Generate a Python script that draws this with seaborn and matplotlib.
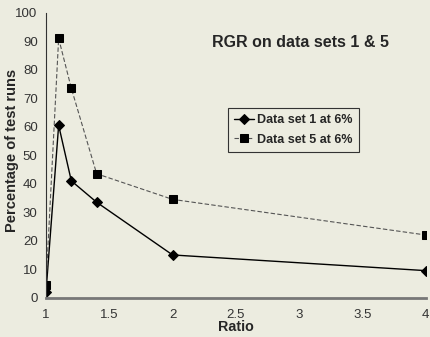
import matplotlib
matplotlib.use("Agg")
import matplotlib.pyplot as plt
import seaborn as sns
import pandas as pd

# Ratio values on the x axis
ratios = [1.0, 1.1, 1.2, 1.4, 2.0, 4.0]
# Percentage of test runs for each data set
set1_pct = [2, 60.5, 41, 33.5, 15, 9.5]
set5_pct = [4.5, 91, 73.5, 43.5, 34.5, 22]
series_names = ["Data set 1 at 6%", "Data set 5 at 6%"]
x_ticks = [1, 1.5, 2, 2.5, 3, 3.5, 4]
x_tick_labels = ["1", "1.5", "2", "2.5", "3", "3.5", "4"]
y_ticks = list(range(0, 101, 10))

bg = "#ECECE0"
sns.set_style("white")
plt.rcParams["font.family"] = ["Liberation Sans", "DejaVu Sans"]

df = pd.DataFrame({
    "Ratio": ratios * 2,
    "Pct": set1_pct + set5_pct,
    "Series": [series_names[0]] * len(ratios) + [series_names[1]] * len(ratios),
})

fig = plt.figure(figsize=(4.31, 3.37), dpi=100, facecolor=bg)
ax = fig.add_axes([0.1067, 0.1166, 0.8813, 0.8457])
ax.set_facecolor(bg)

sns.lineplot(data=df[df.Series == series_names[0]], x="Ratio", y="Pct",
             color="black", linewidth=1.0, marker="D", markersize=5,
             markeredgecolor="black", markerfacecolor="black",
             label=series_names[0], ax=ax, legend=False)
sns.lineplot(data=df[df.Series == series_names[1]], x="Ratio", y="Pct",
             color="#555555", linewidth=0.8, linestyle=(0, (4, 2)),
             marker="s", markersize=6,
             markeredgecolor="black", markerfacecolor="black",
             label=series_names[1], ax=ax, legend=False)

ax.set_xlim(1, 4)
ax.set_ylim(0, 100)
ax.set_xticks(x_ticks)
ax.set_xticklabels(x_tick_labels)
ax.set_yticks(y_ticks)
ax.tick_params(axis="both", labelsize=9.5, labelcolor="#333333", colors="#333333",
               direction="out", length=3, width=0.8, pad=3)
ax.tick_params(axis="x", pad=5)

for side in ("top", "right"):
    ax.spines[side].set_visible(False)
ax.spines["left"].set_color("#333333")
ax.spines["left"].set_linewidth(0.8)
ax.spines["bottom"].set_color("#777777")
ax.spines["bottom"].set_linewidth(2.0)

ax.set_xlabel("")
ax.set_ylabel("")
fig.text(236 / 431, 1 - 327 / 337, "Ratio", ha="center", va="center",
         fontsize=10.3, fontweight="bold")
fig.text(12 / 431, 1 - 150 / 337, "Percentage of test runs", ha="center",
         va="center", rotation=90, fontsize=10.5, fontweight="bold")

ax.text(0.671, 0.894, "RGR on data sets 1 & 5", transform=ax.transAxes,
        ha="center", va="center", fontsize=11.5, fontweight="bold")

leg = ax.legend(loc="upper left", bbox_to_anchor=(228 / 431, 1 - 108 / 337),
                bbox_transform=fig.transFigure,
                prop={"weight": "bold", "size": 9}, frameon=True,
                fancybox=False, edgecolor="#333333", facecolor=bg,
                framealpha=1, handlelength=1.6, handletextpad=0.2,
                borderpad=0.5, labelspacing=0.6, borderaxespad=0)
leg.get_frame().set_linewidth(0.8)

fig.savefig("out.png", dpi=100, facecolor=bg)
